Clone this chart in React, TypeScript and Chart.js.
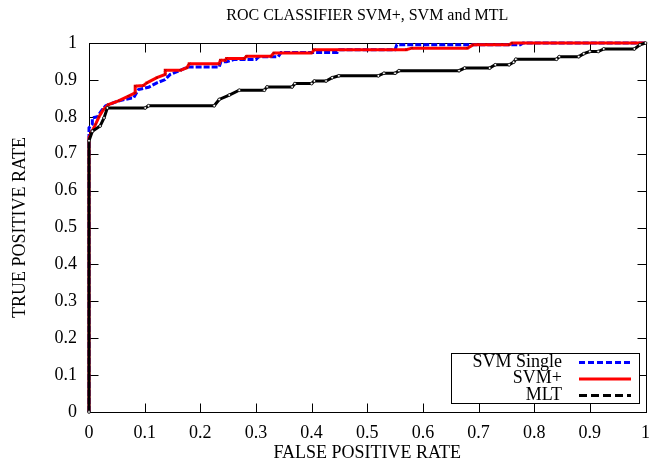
import { useEffect, useRef } from "react";
import { Chart, registerables } from "chart.js";
Chart.register(...registerables);

const FONT = "'Liberation Serif', 'Times New Roman', serif";

const titleText = "ROC CLASSIFIER SVM+, SVM and MTL";
const xAxisTitle = "FALSE POSITIVE RATE";
const yAxisTitle = "TRUE POSITIVE RATE";
const tickValues = [0, 0.1, 0.2, 0.3, 0.4, 0.5, 0.6, 0.7, 0.8, 0.9, 1];
const seriesNames = ["SVM Single", "SVM+", "MLT"];

const svmSingleFpr = [0, 0, 0.006, 0.006, 0.015, 0.024, 0.03, 0.053, 0.077, 0.08, 0.089, 0.107, 0.122, 0.137, 0.146, 0.164, 0.178, 0.234, 0.237, 0.247, 0.26, 0.3, 0.305, 0.34, 0.345, 0.446, 0.45, 0.55, 0.553, 0.775, 0.78, 1];
const svmSingleTpr = [0, 0.77, 0.78, 0.797, 0.8, 0.82, 0.83, 0.843, 0.851, 0.851, 0.874, 0.88, 0.892, 0.901, 0.915, 0.926, 0.935, 0.935, 0.949, 0.949, 0.955, 0.955, 0.963, 0.963, 0.974, 0.974, 0.982, 0.982, 0.995, 0.995, 1, 1];

const svmPlusFpr = [0, 0, 0.005, 0.012, 0.018, 0.026, 0.035, 0.053, 0.071, 0.083, 0.083, 0.098, 0.104, 0.122, 0.137, 0.137, 0.164, 0.176, 0.18, 0.234, 0.236, 0.245, 0.247, 0.279, 0.283, 0.327, 0.332, 0.4, 0.405, 0.57, 0.58, 0.68, 0.69, 0.755, 0.76, 1];
const svmPlusTpr = [0, 0.743, 0.76, 0.78, 0.8, 0.82, 0.833, 0.843, 0.856, 0.865, 0.883, 0.885, 0.892, 0.906, 0.915, 0.926, 0.926, 0.933, 0.944, 0.944, 0.953, 0.953, 0.958, 0.958, 0.964, 0.964, 0.973, 0.973, 0.982, 0.982, 0.986, 0.986, 0.995, 0.995, 1, 1];

const mltFpr = [0, 0, 0.006, 0.02, 0.027, 0.033, 0.101, 0.107, 0.225, 0.234, 0.252, 0.27, 0.315, 0.32, 0.365, 0.37, 0.4, 0.405, 0.426, 0.437, 0.449, 0.52, 0.53, 0.55, 0.557, 0.665, 0.675, 0.72, 0.73, 0.755, 0.763, 0.767, 0.84, 0.845, 0.88, 0.889, 0.9, 0.915, 0.925, 0.98, 0.99, 1];
const mltTpr = [0, 0.735, 0.761, 0.775, 0.797, 0.824, 0.824, 0.83, 0.83, 0.847, 0.859, 0.872, 0.872, 0.881, 0.881, 0.89, 0.89, 0.897, 0.897, 0.906, 0.911, 0.911, 0.918, 0.918, 0.925, 0.925, 0.932, 0.932, 0.941, 0.941, 0.948, 0.956, 0.956, 0.963, 0.963, 0.971, 0.977, 0.977, 0.984, 0.984, 0.995, 1];

const seriesColors = ["#0000ff", "#ff0000", "#000000"];

function toPoints(xs: number[], ys: number[]) {
  return xs.map((x, i) => ({ x, y: ys[i] }));
}

function fmt(v: number) {
  return v === 0 || v === 1 ? String(v) : v.toFixed(1);
}

export default function App() {
  const ref = useRef<HTMLCanvasElement>(null);
  useEffect(() => {
    if (!ref.current) return;
    const framePlugin = {
      id: "gnuFrame",
      beforeDatasetsDraw(chart: any) {
        const { ctx, chartArea: a, scales } = chart;
        const L = Math.round(a.left) + 0.5;
        const R = Math.round(a.right) + 0.5;
        const T = Math.round(a.top) + 0.5;
        const B = Math.round(a.bottom) + 0.5;
        ctx.save();
        ctx.strokeStyle = "#000";
        ctx.lineWidth = 1;
        ctx.strokeRect(L, T, R - L, B - T);
        ctx.beginPath();
        for (const v of tickValues) {
          const x = Math.round(scales.x.getPixelForValue(v)) + 0.5;
          ctx.moveTo(x, B);
          ctx.lineTo(x, B - 9);
          ctx.moveTo(x, T);
          ctx.lineTo(x, T + 9);
          const y = Math.round(scales.y.getPixelForValue(v)) + 0.5;
          ctx.moveTo(L, y);
          ctx.lineTo(L + 9, y);
          ctx.moveTo(R, y);
          ctx.lineTo(R - 9, y);
        }
        ctx.stroke();
        ctx.restore();
      },
      afterDraw(chart: any) {
        const { ctx } = chart;
        ctx.save();
        const bx = 451.5, by = 353.5, bw = 188, bh = 50;
        ctx.fillStyle = "#fff";
        ctx.fillRect(bx, by, bw, bh);
        ctx.strokeStyle = "#000";
        ctx.lineWidth = 1;
        ctx.strokeRect(bx, by, bw, bh);
        ctx.font = `18px ${FONT}`;
        ctx.textAlign = "right";
        ctx.textBaseline = "middle";
        ctx.fillStyle = "#000";
        const rows = [362, 378.5, 395];
        const dashes = [[6, 3], [], [8, 4]];
        seriesNames.forEach((name, i) => {
          ctx.fillText(name, 562, rows[i]);
          ctx.beginPath();
          ctx.setLineDash(dashes[i]);
          ctx.lineWidth = 3;
          ctx.strokeStyle = seriesColors[i];
          ctx.moveTo(579, rows[i] + 0.5);
          ctx.lineTo(631, rows[i] + 0.5);
          ctx.stroke();
        });
        ctx.restore();
      },
    };

    const chart = new Chart(ref.current, {
      type: "line",
      data: {
        datasets: [
          {
            label: seriesNames[0],
            data: toPoints(svmSingleFpr, svmSingleTpr),
            borderColor: seriesColors[0],
            borderWidth: 3,
            borderDash: [6, 2],
            pointRadius: 0,
            order: 3,
            clip: 6,
          },
          {
            label: seriesNames[1],
            data: toPoints(svmPlusFpr, svmPlusTpr),
            borderColor: seriesColors[1],
            borderWidth: 3,
            pointRadius: 1.5,
            pointStyle: "crossRot",
            pointBorderColor: "#b00000",
            pointBorderWidth: 1,
            order: 2,
            clip: 6,
          },
          {
            label: seriesNames[2],
            data: toPoints(mltFpr, mltTpr),
            borderColor: seriesColors[2],
            borderWidth: 3,
            pointRadius: 1.4,
            pointStyle: "circle",
            pointBackgroundColor: "#fff",
            pointBorderColor: "#000",
            pointBorderWidth: 0.8,
            order: 1,
            clip: 6,
          },
        ],
      },
      options: {
        animation: false,
        responsive: false,
        events: [],
        layout: { padding: { left: 0, right: 12, top: 0, bottom: 0 } },
        plugins: {
          legend: { display: false },
          tooltip: { enabled: false },
          title: {
            display: true,
            text: titleText,
            fullSize: false,
            color: "#000",
            font: { family: FONT, size: 16, weight: "normal" },
            padding: { top: 6, bottom: 17.8 },
          },
        },
        scales: {
          x: {
            type: "linear",
            min: 0,
            max: 1,
            afterBuildTicks: (s: any) => {
              s.ticks = tickValues.map((v) => ({ value: v }));
            },
            afterFit: (s: any) => {
              s.height = 52;
            },
            grid: { display: false, drawTicks: false },
            border: { display: false },
            ticks: {
              color: "#000",
              padding: 10,
              maxRotation: 0,
              autoSkip: false,
              font: { family: FONT, size: 18 },
              callback: (v: any) => fmt(Number(v)),
            },
            title: {
              display: true,
              text: xAxisTitle,
              color: "#000",
              font: { family: FONT, size: 18 },
              padding: { top: 0, bottom: 0 },
            },
          },
          y: {
            type: "linear",
            min: 0,
            max: 1,
            afterBuildTicks: (s: any) => {
              s.ticks = tickValues.map((v) => ({ value: v }));
            },
            afterFit: (s: any) => {
              s.width = 89;
            },
            grid: { display: false, drawTicks: false },
            border: { display: false },
            ticks: {
              color: "#000",
              padding: 12,
              autoSkip: false,
              font: { family: FONT, size: 18 },
              callback: (v: any) => fmt(Number(v)),
            },
            title: {
              display: true,
              text: yAxisTitle,
              color: "#000",
              font: { family: FONT, size: 18 },
              padding: { top: 9, bottom: 0 },
            },
          },
        },
      },
      plugins: [framePlugin],
    } as any);
    return () => chart.destroy();
  }, []);

  return (
    <div style={{ position: "absolute", left: 0, top: 0, width: 660, height: 464, background: "#fff" }}>
      <canvas ref={ref} width={660} height={464} />
    </div>
  );
}
